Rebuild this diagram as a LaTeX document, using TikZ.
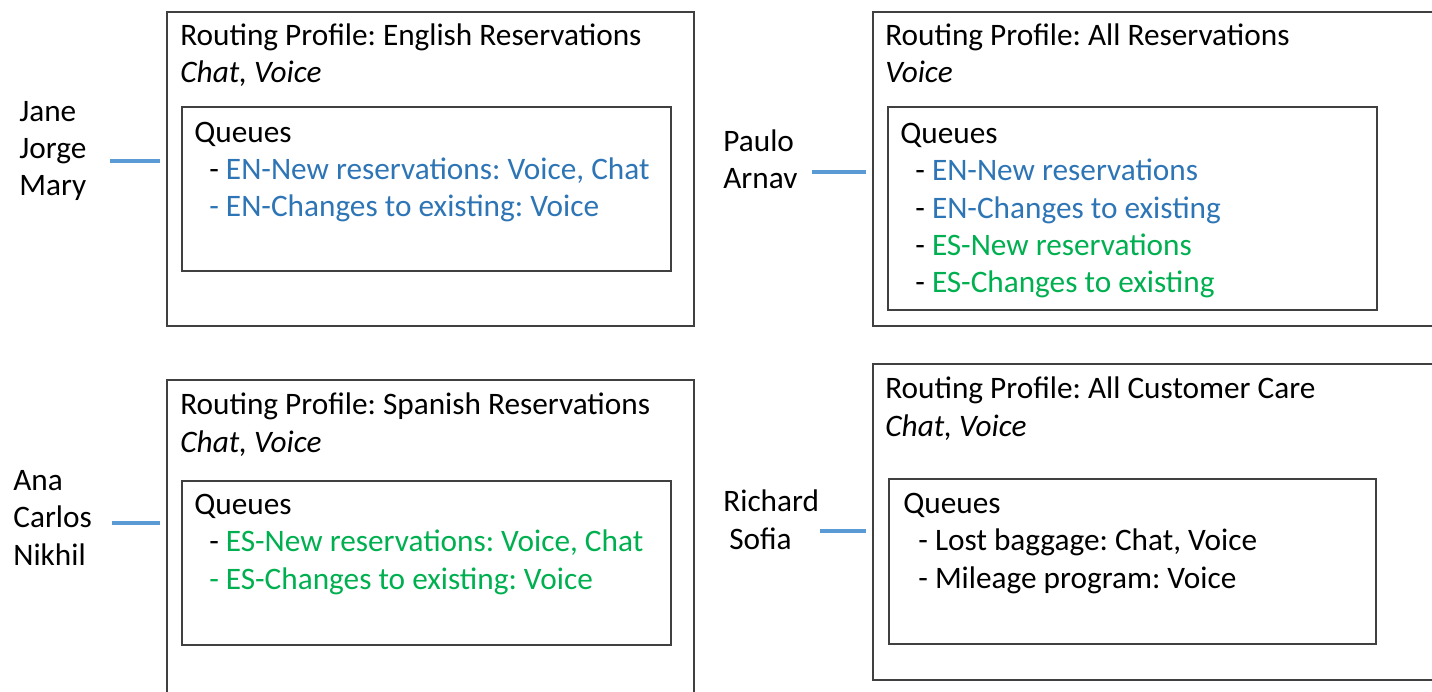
\documentclass[tikz,border=0pt]{standalone}
\usepackage{fontspec}
\setmainfont{Carlito}
\usepackage{tikz}
\usetikzlibrary{fit}
\definecolor{enblue}{RGB}{46,117,182}
\definecolor{esgreen}{RGB}{0,176,80}
\definecolor{linkblue}{RGB}{91,155,213}
\definecolor{boxgray}{RGB}{64,64,64}
\newcommand{\qdash}{\hspace*{0.3cm}- }
\frenchspacing

\tikzset{
profile/.style={draw=boxgray,line width=1.1pt,inner sep=0pt},
queuebox/.style={draw=boxgray,line width=1.1pt,inner sep=0pt},
txt/.style={anchor=base west,align=left,inner sep=0pt,font=\fontsize{17.8pt}{21.3pt}\selectfont},
link/.style={draw=linkblue,line width=2pt,shorten >=0.12cm}
}

\begin{document}
\begin{tikzpicture}[x=0.02cm,y=-0.02cm]
\useasboundingbox (0,0) rectangle (1432,692);
\clip (0,0) rectangle (1432,692);
%English Reservations
\node (profEN) [profile,fit={(167,12) (694,326)}] {};
\node (queEN) [queuebox,fit={(182,107) (671,271)}] {};
\node (titEN) [txt] at (180,83) {Routing Profile: English Reservations\\\textit{Chat, Voice}};
\node (lstEN) [txt] at (194,217) {Queues\\
\qdash\textcolor{enblue}{EN-New reservations: Voice, Chat}\\
\hspace*{0.3cm}\textcolor{enblue}{- EN-Changes to existing: Voice}};
\node (agEN) [txt] at (19,196) {Jane\\Jorge\\Mary};
\coordinate (lnEN) at (110,161);
%All Reservations
\node (profALL) [profile,fit={(873,12) (1445,326)}] {};
\node (queALL) [queuebox,fit={(888,107) (1377,310)}] {};
\node (titALL) [txt] at (885,83) {Routing Profile: All Reservations\\\textit{Voice}};
\node (lstALL) [txt] at (900,293) {Queues\\
\qdash\textcolor{enblue}{EN-New reservations}\\
\qdash\textcolor{enblue}{EN-Changes to existing}\\
\qdash\textcolor{esgreen}{ES-New reservations}\\
\qdash\textcolor{esgreen}{ES-Changes to existing}};
\node (agALL) [txt] at (723,189) {Paulo\\Arnav};
\coordinate (lnALL) at (812,172);
%Spanish Reservations
\node (profES) [profile,fit={(167,380) (694,705)}] {};
\node (queES) [queuebox,fit={(182,481) (671,645)}] {};
\node (titES) [txt] at (180,452) {Routing Profile: Spanish Reservations\\\textit{Chat, Voice}};
\node (lstES) [txt] at (194,589) {Queues\\
\qdash\textcolor{esgreen}{ES-New reservations: Voice, Chat}\\
\hspace*{0.3cm}\textcolor{esgreen}{- ES-Changes to existing: Voice}};
\node (agES) [txt] at (13,565) {Ana\\Carlos\\Nikhil};
\coordinate (lnES) at (112,523);
%All Customer Care
\node (profCC) [profile,fit={(873,364) (1445,680)}] {};
\node (queCC) [queuebox,fit={(889,479) (1376,644)}] {};
\node (titCC) [txt] at (885,436) {Routing Profile: All Customer Care\\\textit{Chat, Voice}};
\node (lstCC) [txt] at (903,588) {Queues\\
\qdash Lost baggage: Chat, Voice\\
\qdash Mileage program: Voice};
\node (agCC) [txt] at (723,549) {Richard\\\hspace*{0.12cm}Sofia};
\coordinate (lnCC) at (820,531);
%agents to profiles
\draw[link] (lnEN) -- (lnEN -| profEN.west);
\draw[link] (lnALL) -- (lnALL -| profALL.west);
\draw[link] (lnES) -- (lnES -| profES.west);
\draw[link] (lnCC) -- (lnCC -| profCC.west);
\end{tikzpicture}
\end{document}
